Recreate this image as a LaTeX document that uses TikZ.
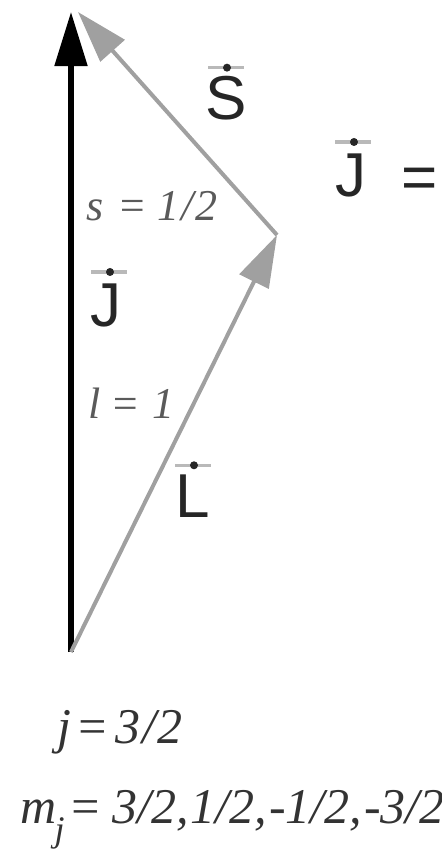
\documentclass[tikz,border=0pt]{standalone}
\usepackage{fontspec}
\setmainfont{Liberation Serif}
\newfontfamily\arialfont{Liberation Sans}
\usetikzlibrary{arrows.meta}
\definecolor{vecgray}{RGB}{160,160,160}
\definecolor{labgray}{RGB}{90,90,90}
\definecolor{accgray}{RGB}{185,185,185}
\tikzset{
  sanslab/.style={inner sep=0pt, font=\arialfont\fontsize{31}{31}\selectfont, text=black!85},
  itlab/.style={inner sep=0pt, anchor=base west, font=\fontsize{22}{22}\selectfont\itshape, text=labgray},
  bottomlab/.style={inner sep=0pt, anchor=base west, font=\fontsize{25}{25}\selectfont\itshape, text=black!80},
  blackvec/.style={line width=2.6pt, black, -{Triangle[length=27pt,width=16pt]}},
  grayvec/.style={line width=2pt, vecgray, -{Triangle[length=26pt,width=16pt]}},
  accentline/.style={line width=1.6pt, accgray},
  accentdot/.style={fill=black!85, draw=none}
}
\begin{document}
\begin{tikzpicture}[x=0.5pt,y=-0.5pt]
\useasboundingbox (0,0) rectangle (442,853);
% end points
\coordinate (O) at (71,652);
\coordinate (Jtip) at (71,12);
\coordinate (P) at (277,235);
\coordinate (Stip) at (78,12);
% vectors
\draw[blackvec] (O) -- (Jtip);
\draw[grayvec] (O) -- (P);
\draw[grayvec] (P) -- (Stip);
% vector labels
\node[sanslab] (S) at (226,98) {S};
\node[sanslab] (Jr) at (351,175) {J};
\node[sanslab] (eq) at (420,183) {=};
\node[sanslab] (Jl) at (106,305) {J};
\node[sanslab] (L) at (193,496) {L};
% vector accents
\foreach \n/\dx/\dy in {S/0/-8, Jr/2/-11, Jl/3/-11, L/0/-9}{
  \draw[accentline] ([shift={(\dx-18,\dy)}]\n.north) -- ([shift={(\dx+18,\dy)}]\n.north);
  \fill[accentdot] ([shift={(\dx+1,\dy)}]\n.north) circle (2pt);
}
% quantum numbers
\node[itlab] (s) at (86,220) {s\kern7pt=\kern5pt1\kern1pt/\kern1pt2};
\node[itlab] (l) at (88,418) {l\kern5pt=\kern6pt1};
\node[bottomlab] (j) at (57,743) {j\kern2pt=\kern3pt3\kern1pt/\kern1pt2};
\node[bottomlab] (mj) at (20,823) {m\kern-1pt\raisebox{-9pt}{\fontsize{18}{18}\selectfont j}\kern2pt=\kern5pt3/2,\kern1pt1/2,\kern1pt-1/2,\kern1pt-3/2};
\end{tikzpicture}
\end{document}
